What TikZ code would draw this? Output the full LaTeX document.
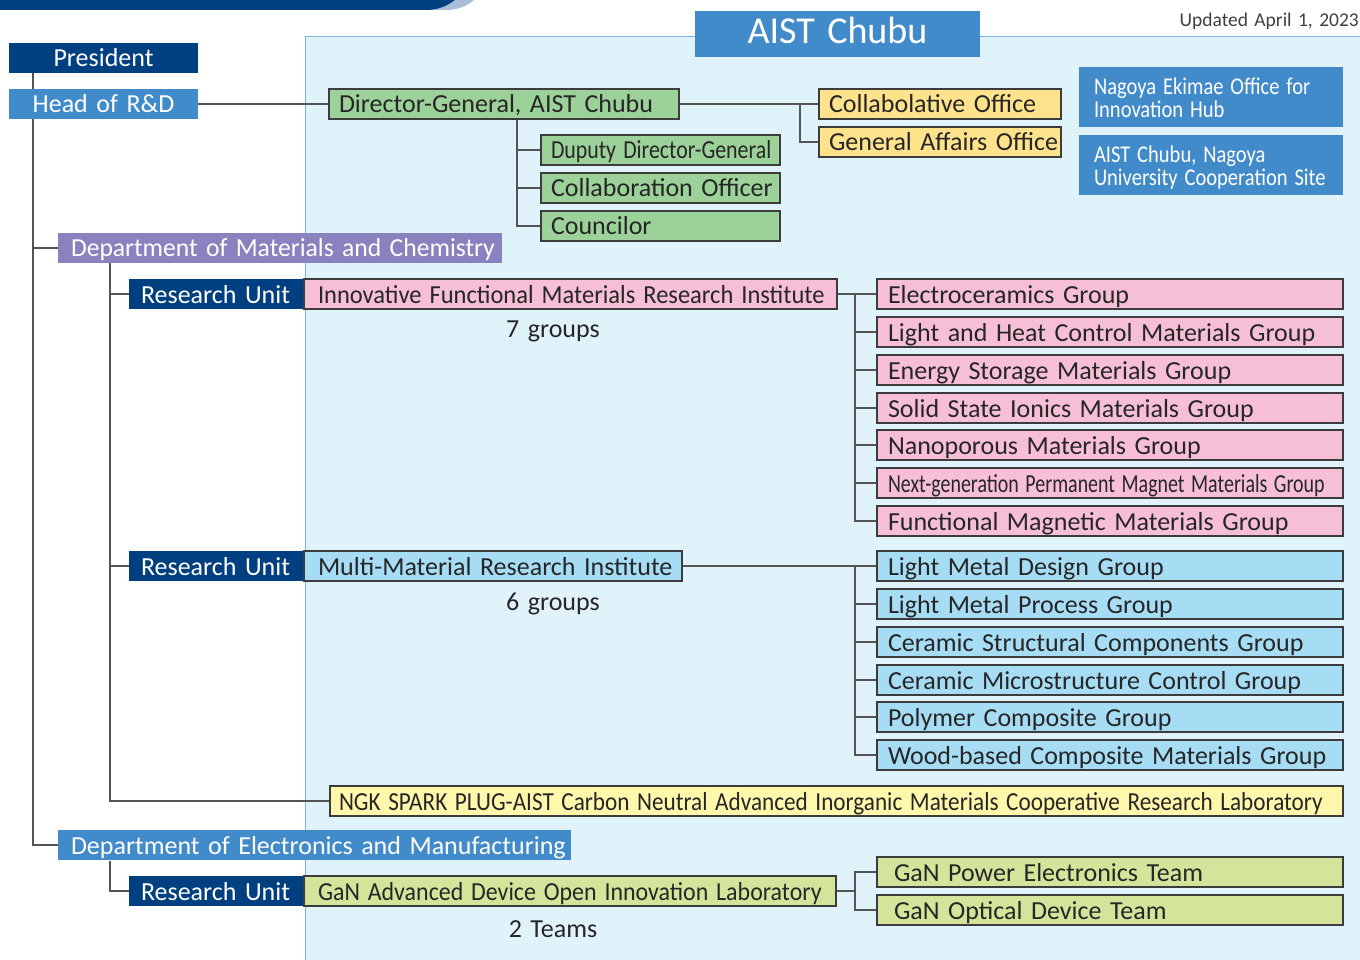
\documentclass[tikz,border=0pt]{standalone}
\usepackage{fontspec}
\usepackage{graphicx}
\setmainfont{Carlito}[WordSpace=1.45]
\usetikzlibrary{calc}
\definecolor{dkblue}{RGB}{0,64,128}
\definecolor{mdblue}{RGB}{66,139,202}
\definecolor{panel}{RGB}{224,242,250}
\definecolor{panelline}{RGB}{120,180,225}
\definecolor{purp}{RGB}{138,130,190}
\definecolor{dggreen}{RGB}{156,209,154}
\definecolor{offyel}{RGB}{255,226,140}
\definecolor{pink}{RGB}{247,191,215}
\definecolor{ltblue}{RGB}{166,221,245}
\definecolor{ngkyel}{RGB}{255,248,172}
\definecolor{gangreen}{RGB}{211,229,155}
\definecolor{lineg}{RGB}{85,85,85}
\definecolor{boxline}{RGB}{60,60,60}
\definecolor{bandlt}{RGB}{168,190,216}
\pgfdeclarelayer{bg}\pgfdeclarelayer{lines}\pgfsetlayers{bg,lines,main}
\newcommand\hs[2]{\scalebox{#1}[1]{#2}}
\newcommand\bx[7][10]{\pgfmathsetmacro\tw{#5-2*#1}\node[#6,inner xsep=#1pt] (#2) at (#3,#4) {\makebox[\tw pt][l]{#7}};}
\tikzset{
  basebox/.style={anchor=north west, minimum height=30pt, inner ysep=0pt, outer sep=0pt,
    text height=24pt, text depth=6pt, font=\fontsize{26}{28}\selectfont},
  cbox/.style={basebox, draw=boxline, line width=1.3pt, text=black!85},
  solid/.style={basebox, text=white},
  twoline/.style={anchor=north west, minimum height=60pt, inner xsep=15pt, inner ysep=0pt, outer sep=0pt,
    align=left, text=white, fill=mdblue, font=\fontsize{24}{23}\selectfont},
  conn/.style={draw=lineg, line width=1.2pt},
  note/.style={font=\fontsize{26}{28}\selectfont, text=black!85},
}
\begin{document}
\begin{tikzpicture}[x=1pt,y=-1pt]
\useasboundingbox (0,0) rectangle (1360,960);
\begin{pgfonlayer}{bg}
  \fill[white] (0,0) rectangle (1360,960);
  \fill[bandlt] (400,0) -- (400,10) -- (445,10) .. controls (460,10) and (468,5) .. (474,0) -- cycle;
  \fill[dkblue] (0,0) -- (0,10) -- (425,10) .. controls (440,10) and (448,5) .. (455,0) -- cycle;
  \filldraw[fill=panel, draw=panelline, line width=1pt] (305,37) rectangle (1366,966);
\end{pgfonlayer}

% header
\node[fill=mdblue, text=white, anchor=north west, minimum width=285pt, minimum height=46pt,
  inner sep=0pt, outer sep=0pt, text height=27pt, text depth=8pt, font=\fontsize{38}{40}\selectfont] (chubu) at (695,11) {AIST Chubu};
\node[anchor=base east, inner sep=0pt, text=black!75, font=\fontsize{19.5}{22}\selectfont] (upd) at (1359,27) {Updated April 1, 2023};

% left column
\node[solid, fill=dkblue, minimum width=189pt, inner xsep=0pt] (pres) at (9,43) {President};
\node[solid, fill=mdblue, minimum width=189pt, inner xsep=0pt] (head) at (9,89) {Head of R\&D};

% management
\bx{dg}{329}{89}{350}{cbox,fill=dggreen}{Director-General, AIST Chubu}
\bx{co}{819}{89}{242}{cbox,fill=offyel}{Collabolative Office}
\bx{gao}{819}{127}{242}{cbox,fill=offyel}{General Affairs Office}
\bx{ddg}{541}{135}{239}{cbox,fill=dggreen}{\hs{0.841}{Duputy Director-General}}
\bx{colo}{541}{173}{239}{cbox,fill=dggreen}{Collaboration Officer}
\bx{coun}{541}{211}{239}{cbox,fill=dggreen}{Councilor}
\node[twoline, text width=234pt] (ekimae) at (1079,67)
  {\rule{0pt}{26pt}\hs{0.856}{Nagoya Ekimae Office for}\\\hs{0.856}{Innovation Hub}\rule[-7pt]{0pt}{7pt}};
\node[twoline, text width=234pt] (nagoya) at (1079,135)
  {\rule{0pt}{26pt}\hs{0.856}{AIST Chubu, Nagoya}\\\hs{0.856}{University Cooperation Site}\rule[-7pt]{0pt}{7pt}};

% Dept of Materials and Chemistry
\bx[13]{dmc}{58}{233}{444}{solid,fill=purp}{\hs{0.985}{Department of Materials and Chemistry}}
\bx[12]{ru1}{129}{279}{175}{solid,fill=dkblue}{Research Unit}
\bx[14]{ifm}{304}{279}{533}{cbox,fill=pink}{\hs{0.942}{Innovative Functional Materials Research Institute}}
\node[note] (n7) at (553,331) {7 groups};
\bx[11]{p1}{877}{279}{466}{cbox,fill=pink}{Electroceramics Group}
\bx[11]{p2}{877}{317}{466}{cbox,fill=pink}{Light and Heat Control Materials Group}
\bx[11]{p3}{877}{355}{466}{cbox,fill=pink}{Energy Storage Materials Group}
\bx[11]{p4}{877}{393}{466}{cbox,fill=pink}{Solid State Ionics Materials Group}
\bx[11]{p5}{877}{430}{466}{cbox,fill=pink}{Nanoporous Materials Group}
\bx[11]{p6}{877}{468}{466}{cbox,fill=pink}{\hs{0.767}{Next-generation Permanent Magnet Materials Group}}
\bx[11]{p7}{877}{506}{466}{cbox,fill=pink}{Functional Magnetic Materials Group}

\bx[12]{ru2}{129}{551}{175}{solid,fill=dkblue}{Research Unit}
\bx[14]{mm}{304}{551}{378}{cbox,fill=ltblue}{Multi-Material Research Institute}
\node[note] (n6) at (553,604) {6 groups};
\bx[11]{b1}{877}{551}{466}{cbox,fill=ltblue}{Light Metal Design Group}
\bx[11]{b2}{877}{589}{466}{cbox,fill=ltblue}{Light Metal Process Group}
\bx[11]{b3}{877}{627}{466}{cbox,fill=ltblue}{Ceramic Structural Components Group}
\bx[11]{b4}{877}{665}{466}{cbox,fill=ltblue}{Ceramic Microstructure Control Group}
\bx[11]{b5}{877}{702}{466}{cbox,fill=ltblue}{Polymer Composite Group}
\bx[11]{b6}{877}{740}{466}{cbox,fill=ltblue}{Wood-based Composite Materials Group}

\bx[9]{ngk}{330}{786}{1013}{cbox,fill=ngkyel}{\hs{0.892}{NGK SPARK PLUG-AIST Carbon Neutral Advanced Inorganic Materials Cooperative Research Laboratory}}

% Dept of Electronics and Manufacturing
\bx[13]{dem}{58}{830}{513}{solid,fill=mdblue}{Department of Electronics and Manufacturing}
\bx[12]{ru3}{129}{876}{175}{solid,fill=dkblue}{Research Unit}
\bx[14]{gan}{304}{876}{532}{cbox,fill=gangreen}{\hs{0.92}{GaN Advanced Device Open Innovation Laboratory}}
\node[note] (n2) at (553,929) {2 Teams};
\bx[17]{t1}{877}{857}{466}{cbox,fill=gangreen}{GaN Power Electronics Team}
\bx[17]{t2}{877}{895}{466}{cbox,fill=gangreen}{GaN Optical Device Team}

% connectors
\coordinate (trunk) at (33,73);
\coordinate (dmcj) at (110,263);
\coordinate (demj) at (110,861);
\coordinate (ofj) at (800,104);
\coordinate (dgj) at (517,119);
\coordinate (ifj) at (855,294);
\coordinate (mmj) at (855,566);
\coordinate (ganj) at (855,891);
\begin{pgfonlayer}{lines}
  \draw[conn] (trunk) |- (dmc.west);
  \draw[conn] (trunk) |- (dem.west);
  \draw[conn] (head.east) -- (head.east -| dg.west);
  \draw[conn] (dg.east) -- (dg.east -| ofj) |- (co.west);
  \draw[conn] (ofj) |- (gao.west);
  \draw[conn] (dgj) |- (ddg.west);
  \draw[conn] (dgj) |- (colo.west);
  \draw[conn] (dgj) |- (coun.west);
  \draw[conn] (dmcj) |- (ru1.west);
  \draw[conn] (dmcj) |- (ru2.west);
  \draw[conn] (dmcj) |- (ngk.west);
  \draw[conn] (demj) |- (ru3.west);
  \draw[conn] (ifm.east) -- (ifm.east -| ifj);
  \foreach \g in {p1,p2,p3,p4,p5,p6,p7} \draw[conn] (ifj) |- (\g.west);
  \draw[conn] (mm.east) -- (mm.east -| mmj);
  \foreach \g in {b1,b2,b3,b4,b5,b6} \draw[conn] (mmj) |- (\g.west);
  \draw[conn] (gan.east) -- (gan.east -| ganj);
  \draw[conn] (ganj) |- (t1.west);
  \draw[conn] (ganj) |- (t2.west);
\end{pgfonlayer}
\end{tikzpicture}
\end{document}
